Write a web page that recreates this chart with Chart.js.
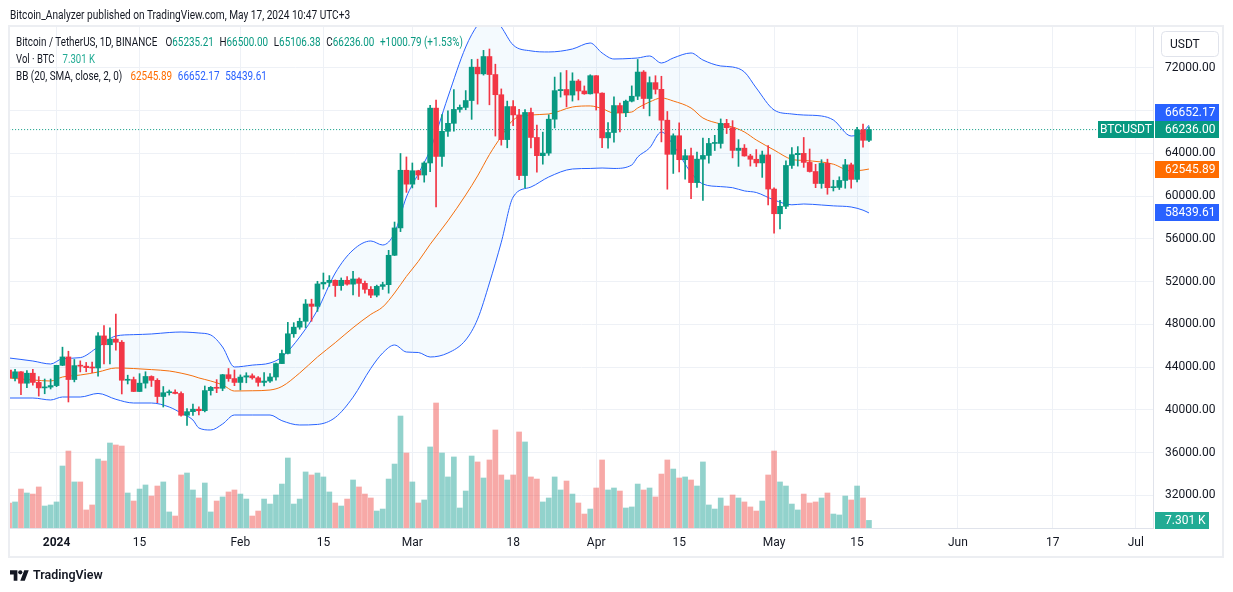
<!DOCTYPE html>
<html>
<head>
<meta charset="utf-8">
<script src="https://cdn.jsdelivr.net/npm/chart.js@4.4.1/dist/chart.umd.min.js"></script>
<style>
  html, body { margin:0; padding:0; background:#fff; }
  body { width:1233px; height:592px; position:relative; overflow:hidden; font-family:Roboto, "Liberation Sans", sans-serif; color:#131722; }
  #chart { position:absolute; left:0; top:0; }
  .txt { position:absolute; white-space:nowrap; transform-origin:0 50%; font-size:12px; line-height:14px; }
  .g { color:#089981; } .o { color:#ff6d00; } .b { color:#2962ff; } .t { color:#22ab94; }
  .gap { margin-left:7px; }
  #logo { position:absolute; left:10px; top:569px; }
</style>
</head>
<body>
<canvas id="chart" width="1233" height="592"></canvas>

<div class="txt" id="hdr" data-w="340" style="left:10px;top:8px;">Bitcoin_Analyzer published on TradingView.com, May 17, 2024 10:47 UTC+3</div>
<div class="txt" id="l1" data-w="447" style="left:16px;top:35px;">Bitcoin / TetherUS, 1D, BINANCE <span class="gap">O</span><span class="g">65235.21</span><span class="gap">H</span><span class="g">66500.00</span><span class="gap">L</span><span class="g">65106.38</span><span class="gap">C</span><span class="g">66236.00</span><span class="g gap">+1000.79 (+1.53%)</span></div>
<div class="txt" id="l2" data-w="79" style="left:16px;top:52px;">Vol · BTC <span class="t gap">7.301 K</span></div>
<div class="txt" id="l3" data-w="251" style="left:16px;top:69px;">BB (20, SMA, close, 2, 0) <span class="o gap">62545.89</span><span class="b gap">66652.17</span><span class="b gap">58439.61</span></div>

<svg id="logo" width="19" height="13" viewBox="0 0 36 24"><path d="M14 22H7V10H0V2h14v20zM28 22h-8.5l7.5-20h8.5L28 22z" fill="#131722"/><circle cx="19.5" cy="6" r="4" fill="#131722"/></svg>
<div class="txt" id="tv" data-w="70" style="left:33px;top:568px;font-weight:600;font-size:13px;">TradingView</div>

<script>
// days are counted from Jan 1, 2024 (Dec 24, 2023 = -8), one candle per day up to May 17
const START_DAY = -8;

// OHLC, Dec 24 2023 .. May 17 2024
const opens = [
  43728, 42992, 43574, 42505, 43442, 42582, 42068, 42140,
  42284, 44180, 44965, 42849, 44151, 44100, 43960, 43930, 46932, 46106, 46633, 46340, 42782, 42847, 41732, 42511, 43137, 42776, 41262, 41618, 41665, 41545, 39507, 39845, 40077, 39934, 41816, 42120, 42031, 43303, 42941,
  42580, 43082, 43200, 43011, 42582, 42709, 43088, 44342, 45288, 47132, 47751, 48300, 49917, 49699, 51795, 51938, 52134, 51642, 52137, 51775, 52258, 51849, 51288, 50745, 51568, 51728, 54476, 57037, 62432,
  61130, 62387, 61987, 63113, 68245, 63724, 66074, 66823, 68124, 68313, 68955, 72078, 71453, 73072, 71388, 69499, 65300, 68393, 67609, 61937, 67840, 65501, 63796, 64037, 67211, 69880, 69988, 69469, 70780, 69850, 69582,
  71280, 69649, 65463, 65963, 68487, 67820, 68896, 69360, 71620, 69146, 70631, 70006, 67116, 63924, 65661, 63419, 63793, 61277, 63470, 63818, 64941, 64941, 66819, 66414, 64289, 64498, 63770, 63461, 63119, 63866,
  60672, 58364, 59060, 62882, 63892, 64013, 63166, 62313, 61194, 63074, 60800, 60826, 61478, 62940, 61577, 66206, 65235
];
const highs = [
  43954, 43802, 43592, 43677, 43804, 43124, 42899, 42899,
  44184, 45879, 45500, 44729, 44600, 44450, 44490, 47249, 47893, 47696, 48969, 46500, 43257, 43079, 43400, 43578, 43198, 42930, 42196, 41870, 41885, 41689, 40129, 40555, 40300, 42246, 42200, 42842, 43333, 43882, 43745,
  43285, 43488, 43380, 43119, 43494, 43399, 44389, 45614, 48200, 48170, 48592, 50334, 50368, 52043, 52817, 52574, 52177, 52356, 52488, 52985, 52372, 52065, 51548, 51684, 51958, 54938, 57588, 64000, 63676,
  63114, 62433, 63231, 68499, 69000, 67637, 67985, 69990, 68541, 69887, 72800, 72825, 73650, 73777, 72357, 70043, 68904, 68957, 68124, 68100, 68240, 66650, 65999, 67622, 71150, 71561, 71769, 71552, 70916, 70321, 71366,
  71288, 69674, 66903, 69291, 68725, 69000, 70326, 72797, 71758, 71172, 71277, 71227, 67931, 65840, 66867, 64365, 64499, 64125, 65450, 65419, 65700, 67233, 67199, 67075, 65297, 64837, 63923, 64370, 64228, 64734,
  60780, 59625, 63320, 64545, 64646, 65500, 64422, 62984, 63420, 63470, 61500, 61818, 63450, 63102, 66444, 66752, 66500
];
const lows = [
  42756, 42720, 41424, 42098, 42318, 41300, 41520, 41965,
  42181, 44149, 40750, 42630, 43560, 43580, 43500, 43176, 44300, 44300, 45606, 41500, 42436, 41720, 41718, 42050, 42200, 40683, 40280, 41394, 41500, 39431, 38555, 39485, 39550, 39822, 41394, 41620, 41804, 42683, 42276,
  41884, 42546, 42880, 42222, 42258, 42574, 42788, 44331, 45242, 46800, 47557, 47710, 48300, 49225, 51315, 51566, 50625, 51200, 51677, 50760, 50625, 50940, 50521, 50585, 51279, 50931, 54450, 56691, 60364,
  60777, 61561, 61321, 62300, 59005, 62787, 65600, 66082, 67862, 68094, 67194, 68620, 71334, 68555, 65630, 64780, 64533, 66594, 61555, 60775, 64529, 62260, 63000, 63825, 66385, 69280, 68360, 68903, 69009, 69540, 69562,
  68062, 64550, 64493, 65064, 66011, 67447, 68824, 69041, 68210, 67518, 69567, 65086, 60660, 62134, 62274, 61600, 59768, 60833, 59600, 63090, 64278, 64500, 65864, 63589, 62794, 63748, 62824, 62781, 61765, 59191,
  56552, 56937, 58848, 62600, 62822, 62700, 62261, 60800, 60749, 60187, 60492, 60632, 60750, 60760, 61330, 64602, 65106
];
const closes = [
  42992, 43574, 42505, 43442, 42582, 42068, 42140, 42284,
  44180, 44965, 42849, 44151, 44100, 43960, 43930, 46932, 46106, 46633, 46340, 42782, 42847, 41732, 42511, 43137, 42776, 41262, 41618, 41665, 41545, 39507, 39845, 40077, 39934, 41816, 42120, 42031, 43303, 42941, 42580,
  43082, 43200, 43011, 42582, 42709, 43088, 44342, 45288, 47132, 47751, 48300, 49917, 49699, 51795, 51938, 52134, 51642, 52137, 51775, 52258, 51849, 51288, 50745, 51568, 51728, 54476, 57037, 62432, 61130,
  62387, 61987, 63113, 68245, 63724, 66074, 66823, 68124, 68313, 68955, 72078, 71453, 73072, 71388, 69499, 65300, 68393, 67609, 61937, 67840, 65501, 63796, 64037, 67211, 69880, 69988, 69469, 70780, 69850, 69582, 71280,
  69649, 65463, 65963, 68487, 67820, 68896, 69360, 71620, 69146, 70631, 70006, 67116, 63924, 65661, 63419, 63793, 61277, 63470, 63818, 64941, 64941, 66819, 66414, 64289, 64498, 63770, 63461, 63119, 63866, 60672,
  58364, 59060, 62882, 63892, 64013, 63166, 62313, 61194, 63074, 60800, 60826, 61478, 62940, 61577, 66206, 65235, 66236
];
// volume, thousands of BTC
const volumes = [
  24, 25, 37.4, 33.6, 32.6, 39.4, 21.1, 22.1,
  25, 59.5, 73.9, 44.2, 44.2, 17.3, 22.1, 66.2, 64.3, 81.6, 79.7, 78.7, 33.6, 25.9, 37.4, 41.3, 30.7, 40.3, 44.2, 15.4, 11.5, 50.9, 52.8, 36.5, 28.8, 43.2, 15.4, 25.9, 29.8, 34.6, 36.5,
  32.6, 27.8, 11.5, 16.3, 27.8, 23, 31.7, 42.2, 67.2, 23, 27.8, 53.8, 50.9, 52.8, 49, 34.6, 24, 21.1, 27.8, 46.1, 39.4, 32.6, 28.8, 16.3, 18.2, 47, 61.4, 107.5, 72,
  44.2, 24, 26.9, 77.8, 120, 72, 49, 68.2, 19.2, 35.5, 69.1, 63.4, 48, 65.3, 94.1, 50.9, 46.1, 50.9, 92.2, 82.6, 49, 47, 25, 28.8, 49, 36.5, 45.1, 32.6, 24, 13.4, 18.2,
  38.4, 65.3, 36.5, 38.4, 35.5, 19.2, 20.2, 42.2, 36.5, 38.4, 29.8, 51.8, 65.3, 56.6, 48, 49, 46.1, 40.3, 63.4, 22.1, 18.2, 28.8, 21.1, 31.7, 28.8, 25, 20.2, 16.3, 25.9, 50.9,
  73.9, 44.2, 40.3, 23, 17.3, 32.6, 24, 25, 28.8, 33.6, 13.4, 12.5, 30.7, 26.9, 40.3, 28.8, 7.301
];

// Bollinger bands (20, 2) at these days
const bbDays = [-8,-4,-1,1,4,7,10,13,16,19,21,23,24,26,28,30,33,36,38,41,44,47,50,53,55,57,59,61,63,66,69,71,73,75,77,80,83,87,90,92,94,97,98,100,102,104,107,109,112,114,116,118,121,124,126,129,131,134,136,137];
const bbUpper = [44866,44584,44304,44800,44900,45894,46924,47050,47113,47250,47298,47250,47205,47019,45894,44023,44200,44397,44959,46830,49356,52818,54970,55813,55438,56561,59930,62100,64327,69287,73965,76024,77200,75836,74152,73600,73500,73778,74339,73404,72842,72900,72936,73123,72468,72936,73404,72749,72187,72094,71626,70129,68070,67696,67600,67509,67135,65637,66012,66652.17];
const bbBasis = [42994,42807,42713,43087,43274,43555,43929,43880,43780,43649,43450,43180,43000,42713,42350,41777,41800,41871,42200,43461,44959,46300,47700,48950,49638,50947,52500,53900,55500,57700,60117,61900,63900,65600,67135,67602,67696,68351,68450,68200,67789,67883,68257,68819,69193,68912,68257,67322,66760,66479,66012,65263,64327,63450,63350,63204,63000,62362,62450,62545.89];
const bbLower = [41122,41122,40936,41216,41216,41550,41000,40654,40654,40280,39719,39064,38316,38129,38690,39532,39532,39532,39000,38597,38650,39300,41200,43900,45333,46081,45426,45380,44959,45333,46550,48500,51883,55700,59930,60865,61801,62550,62600,62643,62600,62924,63672,64515,66012,64795,62200,61146,60900,60800,60500,60350,59649,59200,59275,59181,59100,58994,58700,58439.61];

// time axis
const tickDays = [0, 14, 31, 45, 60, 77, 91, 105, 121, 135, 152, 168, 182];
const tickLabels = ["2024", "15", "Feb", "15", "Mar", "18", "Apr", "15", "May", "15", "Jun", "17", "Jul"];
// price axis
const priceTicks = [32000, 36000, 40000, 44000, 48000, 52000, 56000, 60000, 64000, 68000, 72000];

const UP = "#089981", DOWN = "#f23645";
const days = closes.map((_, i) => START_DAY + i);
const upDay = closes.map((c, i) => c >= opens[i]);
const candleColors = upDay.map(u => u ? UP : DOWN);
const volColors = upDay.map(u => u ? "rgba(38,166,154,0.5)" : "rgba(239,83,80,0.5)");
const last = closes.length - 1;

function tag(ctx, x, yc, w, color, text, align){
  ctx.fillStyle = color;
  ctx.fillRect(x, Math.round(yc - 8.5), w, 17);
  ctx.fillStyle = "#fff";
  ctx.textBaseline = "middle";
  ctx.textAlign = align === "center" ? "center" : "left";
  ctx.fillText(text, align === "center" ? x + w / 2 : 1165, yc + 0.5);
}

const overlay = {
  id: "overlay",
  afterDraw(chart){
    const ctx = chart.ctx, ys = chart.scales.y, yv = chart.scales.yVol;
    ctx.save();
    // frame
    ctx.strokeStyle = "#eceef2"; ctx.lineWidth = 2;
    ctx.strokeRect(9, 26, 1214, 531);
    // currency button
    ctx.strokeStyle = "#e0e3eb"; ctx.lineWidth = 1;
    ctx.beginPath(); ctx.roundRect(1161.5, 31.5, 57, 25, 4); ctx.stroke();
    ctx.font = "12px Roboto"; ctx.fillStyle = "#131722"; ctx.textAlign = "left"; ctx.textBaseline = "middle";
    ctx.fillText("USDT", 1170, 44.5);
    // price tags
    const yLast = ys.getPixelForValue(closes[last]);
    const yUp = Math.min(ys.getPixelForValue(bbUpper[bbUpper.length - 1]), yLast - 17);
    tag(ctx, 1155, yUp, 64, "#2962ff", bbUpper[bbUpper.length - 1].toFixed(2));
    tag(ctx, 1155, yLast, 64, UP, closes[last].toFixed(2));
    tag(ctx, 1098, yLast, 56, UP, "BTCUSDT", "center");
    tag(ctx, 1155, ys.getPixelForValue(bbBasis[bbBasis.length - 1]), 64, "#ff6d00", bbBasis[bbBasis.length - 1].toFixed(2));
    tag(ctx, 1155, ys.getPixelForValue(bbLower[bbLower.length - 1]), 64, "#2962ff", bbLower[bbLower.length - 1].toFixed(2));
    tag(ctx, 1155, yv.getPixelForValue(volumes[last]), 54, "#22ab94", volumes[last].toFixed(3) + " K");
    ctx.restore();
  }
};

Chart.defaults.font.family = "Roboto";
Chart.defaults.color = "#131722";

const band = (vals, color, extra) => Object.assign({
  type: "line", data: bbDays.map((d, i) => ({ x: d, y: vals[i] })),
  borderColor: color, borderWidth: 1, pointRadius: 0, cubicInterpolationMode: "monotone",
  fill: false, order: 3, yAxisID: "y"
}, extra || {});

new Chart(document.getElementById("chart"), {
  data: {
    datasets: [
      band(bbUpper, "#2962ff", { label: "BB upper", fill: { target: 2 }, backgroundColor: "rgba(33,150,243,0.05)" }),
      band(bbBasis, "#ff6d00", { label: "BB basis" }),
      band(bbLower, "#2962ff", { label: "BB lower" }),
      {
        type: "line", label: "last price", data: [{ x: START_DAY, y: closes[last] }, { x: 185, y: closes[last] }],
        borderColor: UP, borderWidth: 1, borderDash: [1, 2], pointRadius: 0, order: 2, yAxisID: "y"
      },
      {
        type: "bar", label: "Volume", data: days.map((d, i) => ({ x: d, y: volumes[i] })),
        backgroundColor: volColors, barThickness: 5, grouped: false, order: 4, yAxisID: "yVol"
      },
      {
        type: "bar", label: "Wicks", data: days.map((d, i) => ({ x: d, y: [lows[i], highs[i]] })),
        backgroundColor: candleColors, barThickness: 1, grouped: false, order: 1, yAxisID: "y"
      },
      {
        type: "bar", label: "Bodies", data: days.map((d, i) => ({ x: d, y: [opens[i], closes[i]] })),
        backgroundColor: candleColors, barThickness: 5, minBarLength: 1, grouped: false, order: 0, yAxisID: "y"
      }
    ]
  },
  options: {
    responsive: false,
    devicePixelRatio: 1,
    animation: false,
    layout: { padding: { left: 10, right: 10, top: 27, bottom: 36 } },
    plugins: { legend: { display: false }, tooltip: { enabled: false } },
    scales: {
      x: {
        type: "linear", min: -7.85, max: 184.9, offset: false,
        afterBuildTicks: s => { s.ticks = tickDays.map(v => ({ value: v })); },
        afterFit: s => { s.height = 28; },
        ticks: {
          autoSkip: false, maxRotation: 0, padding: 8, color: "#131722",
          font: c => ({ family: "Roboto", size: 12, weight: (c.tick && c.tick.value === 0) ? "bold" : "normal" }),
          callback: v => tickLabels[tickDays.indexOf(v)]
        },
        grid: { color: "#eef1f6", drawTicks: false, offset: false },
        border: { display: true, color: "#e0e3eb" }
      },
      y: {
        type: "linear", position: "right", min: 28959, max: 75836,
        afterBuildTicks: s => { s.ticks = priceTicks.map(v => ({ value: v })); },
        afterFit: s => { s.width = 70; },
        ticks: {
          padding: 12, color: "#131722", font: { family: "Roboto", size: 12 },
          callback: v => v === 68000 ? "" : v.toFixed(2)
        },
        grid: { color: "#eef1f6", drawTicks: false },
        border: { display: true, color: "#e0e3eb" }
      },
      yVol: { type: "linear", display: false, min: 0, max: 481 }
    }
  },
  plugins: [overlay]
});

// squeeze the html texts to the widths of the reference
document.querySelectorAll(".txt[data-w]").forEach(el => {
  const w = Number(el.dataset.w);
  if (el.offsetWidth) el.style.transform = "scaleX(" + (w / el.offsetWidth) + ")";
});
</script>
</body>
</html>
